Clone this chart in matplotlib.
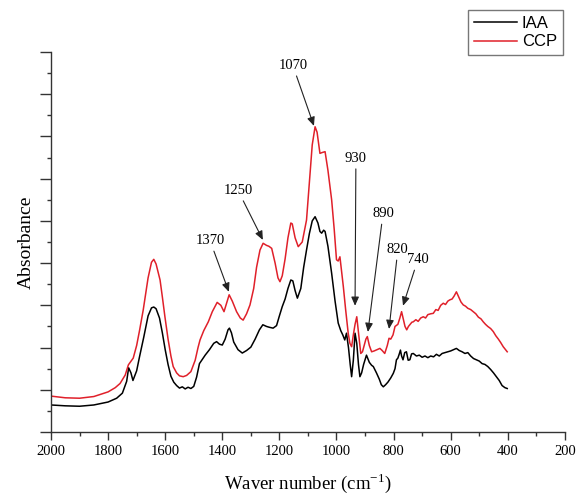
import matplotlib
matplotlib.use("Agg")
import matplotlib.pyplot as plt
from matplotlib.ticker import MultipleLocator

# IAA spectrum (black)
iaa_wn = [2000, 1950, 1900, 1850, 1800, 1770, 1750, 1735, 1728, 1720, 1713, 1700, 1690, 1675,
          1660, 1648, 1640, 1632, 1620, 1610, 1600, 1590, 1580, 1570, 1560, 1550, 1540, 1530,
          1520, 1510, 1500, 1490, 1480, 1470, 1460, 1445, 1430, 1420, 1410, 1400, 1390, 1380,
          1375, 1368, 1360, 1345, 1330, 1315, 1300, 1285, 1270, 1258, 1245, 1235, 1222, 1210,
          1200, 1190, 1180, 1170, 1160, 1153, 1145, 1137, 1125, 1115, 1105, 1095, 1085, 1075,
          1065, 1058, 1052, 1045, 1040, 1030, 1017, 1005, 994, 985, 978, 971, 965, 958, 952,
          947, 941, 935, 929, 923, 918, 912, 905, 895, 885, 877, 871, 860, 850, 843, 836, 828,
          820, 810, 801, 795, 790, 785, 780, 776, 772, 767, 761, 755, 749, 743, 737, 731, 720,
          710, 700, 690, 680, 670, 660, 650, 640, 630, 620, 610, 600, 590, 580, 570, 560, 550,
          540, 530, 520, 510, 500, 490, 480, 470, 460, 450, 440, 430, 420, 410, 402]
iaa_abs = [0.64, 0.62, 0.61, 0.64, 0.71, 0.80, 0.92, 1.20, 1.52, 1.40, 1.22, 1.45, 1.78, 2.25,
           2.75, 2.94, 2.96, 2.92, 2.70, 2.35, 1.95, 1.60, 1.32, 1.18, 1.10, 1.04, 1.07, 1.02,
           1.06, 1.03, 1.08, 1.30, 1.62, 1.72, 1.82, 1.95, 2.10, 2.14, 2.08, 2.06, 2.20, 2.42,
           2.46, 2.35, 2.13, 1.95, 1.87, 1.93, 2.01, 2.20, 2.42, 2.54, 2.50, 2.48, 2.46, 2.52,
           2.75, 2.97, 3.15, 3.40, 3.60, 3.58, 3.35, 3.17, 3.40, 3.90, 4.31, 4.70, 5.00, 5.10,
           4.95, 4.75, 4.71, 4.78, 4.75, 4.40, 3.76, 3.10, 2.58, 2.40, 2.30, 2.18, 2.34, 2.00,
           1.60, 1.31, 1.70, 2.34, 2.10, 1.60, 1.31, 1.40, 1.60, 1.82, 1.65, 1.58, 1.55, 1.40,
           1.25, 1.12, 1.07, 1.12, 1.18, 1.28, 1.39, 1.50, 1.71, 1.75, 1.85, 1.94, 1.80, 1.71,
           1.88, 1.90, 1.70, 1.71, 1.85, 1.86, 1.80, 1.82, 1.77, 1.80, 1.76, 1.80, 1.78, 1.84,
           1.80, 1.86, 1.88, 1.90, 1.92, 1.95, 1.98, 1.93, 1.90, 1.86, 1.88, 1.80, 1.74, 1.71,
           1.68, 1.62, 1.60, 1.55, 1.48, 1.40, 1.31, 1.22, 1.10, 1.05, 1.03]

# CCP spectrum (red)
ccp_wn = [2000, 1950, 1900, 1850, 1800, 1775, 1758, 1740, 1729, 1712, 1700, 1690, 1677, 1660,
          1648, 1640, 1632, 1618, 1610, 1601, 1590, 1580, 1572, 1560, 1550, 1537, 1525, 1510,
          1495, 1485, 1478, 1465, 1449, 1435, 1418, 1405, 1394, 1385, 1376, 1365, 1350, 1337,
          1327, 1315, 1303, 1290, 1280, 1268, 1257, 1245, 1237, 1227, 1215, 1205, 1198, 1190,
          1180, 1170, 1160, 1155, 1145, 1134, 1120, 1105, 1095, 1085, 1075, 1068, 1058, 1050,
          1040, 1030, 1017, 1008, 1000, 994, 988, 982, 976, 968, 959, 953, 947, 941, 935, 929,
          922, 915, 909, 903, 897, 892, 885, 877, 868, 858, 848, 840, 831, 822, 816, 810, 802,
          795, 785, 778, 772, 765, 760, 754, 748, 742, 736, 731, 722, 714, 705, 696, 688, 680,
          670, 661, 652, 644, 635, 626, 618, 610, 603, 595, 588, 580, 572, 564, 556, 548, 540,
          530, 521, 512, 503, 494, 486, 478, 470, 460, 451, 442, 433, 425, 416, 408, 402]
ccp_abs = [0.85, 0.81, 0.80, 0.84, 0.95, 1.05, 1.15, 1.35, 1.59, 1.75, 2.05, 2.40, 2.89, 3.65,
           4.02, 4.09, 3.98, 3.60, 3.20, 2.73, 2.20, 1.80, 1.55, 1.40, 1.33, 1.31, 1.34, 1.43,
           1.70, 2.00, 2.18, 2.40, 2.61, 2.85, 3.07, 3.00, 2.85, 3.05, 3.25, 3.10, 2.85, 2.70,
           2.65, 2.80, 3.01, 3.40, 3.90, 4.31, 4.47, 4.42, 4.40, 4.35, 4.00, 3.65, 3.56, 3.70,
           4.10, 4.60, 4.95, 4.93, 4.60, 4.39, 4.50, 5.02, 5.90, 6.80, 7.23, 7.10, 6.60, 6.62,
           6.64, 6.20, 5.50, 4.80, 4.08, 4.05, 4.15, 3.80, 3.44, 2.90, 2.34, 2.10, 2.02, 2.30,
           2.55, 2.73, 2.30, 1.86, 1.90, 2.05, 2.20, 2.26, 2.05, 1.90, 1.92, 1.95, 1.98, 1.93,
           1.86, 2.05, 2.22, 2.20, 2.30, 2.50, 2.55, 2.70, 2.85, 2.65, 2.50, 2.42, 2.50, 2.55,
           2.60, 2.61, 2.66, 2.62, 2.70, 2.73, 2.70, 2.78, 2.80, 2.81, 2.90, 2.88, 3.00, 3.05,
           3.02, 3.10, 3.13, 3.15, 3.22, 3.32, 3.20, 3.08, 3.01, 2.98, 2.93, 2.90, 2.85, 2.80,
           2.72, 2.68, 2.61, 2.55, 2.50, 2.45, 2.38, 2.28, 2.20, 2.12, 2.02, 1.95, 1.90]

# peak labels: text, (text x, text y), (arrow tip x, tip y)
peak_labels = ["1370", "1250", "1070", "930", "890", "820", "740"]
label_pos = [(1443, 4.38), (1345, 5.57), (1153, 8.53), (932, 6.33), (837, 5.02), (785, 4.17), (715, 3.93)]
tip_pos = [(1377, 3.32), (1258, 4.55), (1079, 7.25), (935, 2.99), (890, 2.37), (816, 2.44), (767, 2.99)]

serif = ["Liberation Serif", "DejaVu Serif"]
axis_col = "#333333"
plt.rcParams["mathtext.fontset"] = "custom"
plt.rcParams["mathtext.rm"] = "Liberation Serif"

fig = plt.figure(figsize=(5.77, 4.97), dpi=100)
ax = fig.add_axes([0.0884, 0.1308, 0.8906, 0.7645])

ax.plot(iaa_wn, iaa_abs, color="black", lw=1.1, label="IAA")
ax.plot(ccp_wn, ccp_abs, color="#e0202a", lw=1.1, label="CCP")

for txt, (tx, ty), (px, py) in zip(peak_labels, label_pos, tip_pos):
    ax.annotate(txt, xy=(px, py), xytext=(tx, ty), ha="center", va="bottom",
                fontsize=10.5, family=serif,
                arrowprops=dict(arrowstyle="-|>,head_length=0.5,head_width=0.22",
                                color="#222222", lw=0.8, shrinkA=1, shrinkB=0))

ax.set_xlim(2000, 200)
ax.set_ylim(0, 9)
ax.xaxis.set_major_locator(MultipleLocator(200))
ax.xaxis.set_minor_locator(MultipleLocator(100))
ax.yaxis.set_major_locator(MultipleLocator(1))
ax.yaxis.set_minor_locator(MultipleLocator(0.5))
ax.set_yticklabels([])

for side in ["top", "right"]:
    ax.spines[side].set_visible(False)
for side in ["left", "bottom"]:
    ax.spines[side].set_color(axis_col)
    ax.spines[side].set_linewidth(1.0)

ax.tick_params(axis="both", which="major", direction="out", length=6, width=1.0, color=axis_col)
ax.tick_params(axis="both", which="minor", direction="out", length=3, width=1.0, color=axis_col)
ax.tick_params(axis="y", which="major", length=8)
ax.tick_params(axis="x", labelsize=10.5)
for lab in ax.get_xticklabels():
    lab.set_family(serif)

ax.set_xlabel(r"Waver number (cm$^{\mathrm{-1}}$)", fontsize=13.5, family=serif, labelpad=9.5)
ax.set_ylabel("Absorbance", fontsize=14, family=serif, labelpad=0)

leg = ax.legend(loc="upper right", bbox_to_anchor=(0.996, 1.11), borderaxespad=0,
                prop={"family": ["Liberation Sans", "DejaVu Sans"], "size": 12},
                frameon=True, fancybox=False, edgecolor="#555555",
                handlelength=2.6, handletextpad=0.3, borderpad=0.35, labelspacing=0.2)
leg.get_frame().set_linewidth(1.0)

fig.savefig("out.png", dpi=100)
